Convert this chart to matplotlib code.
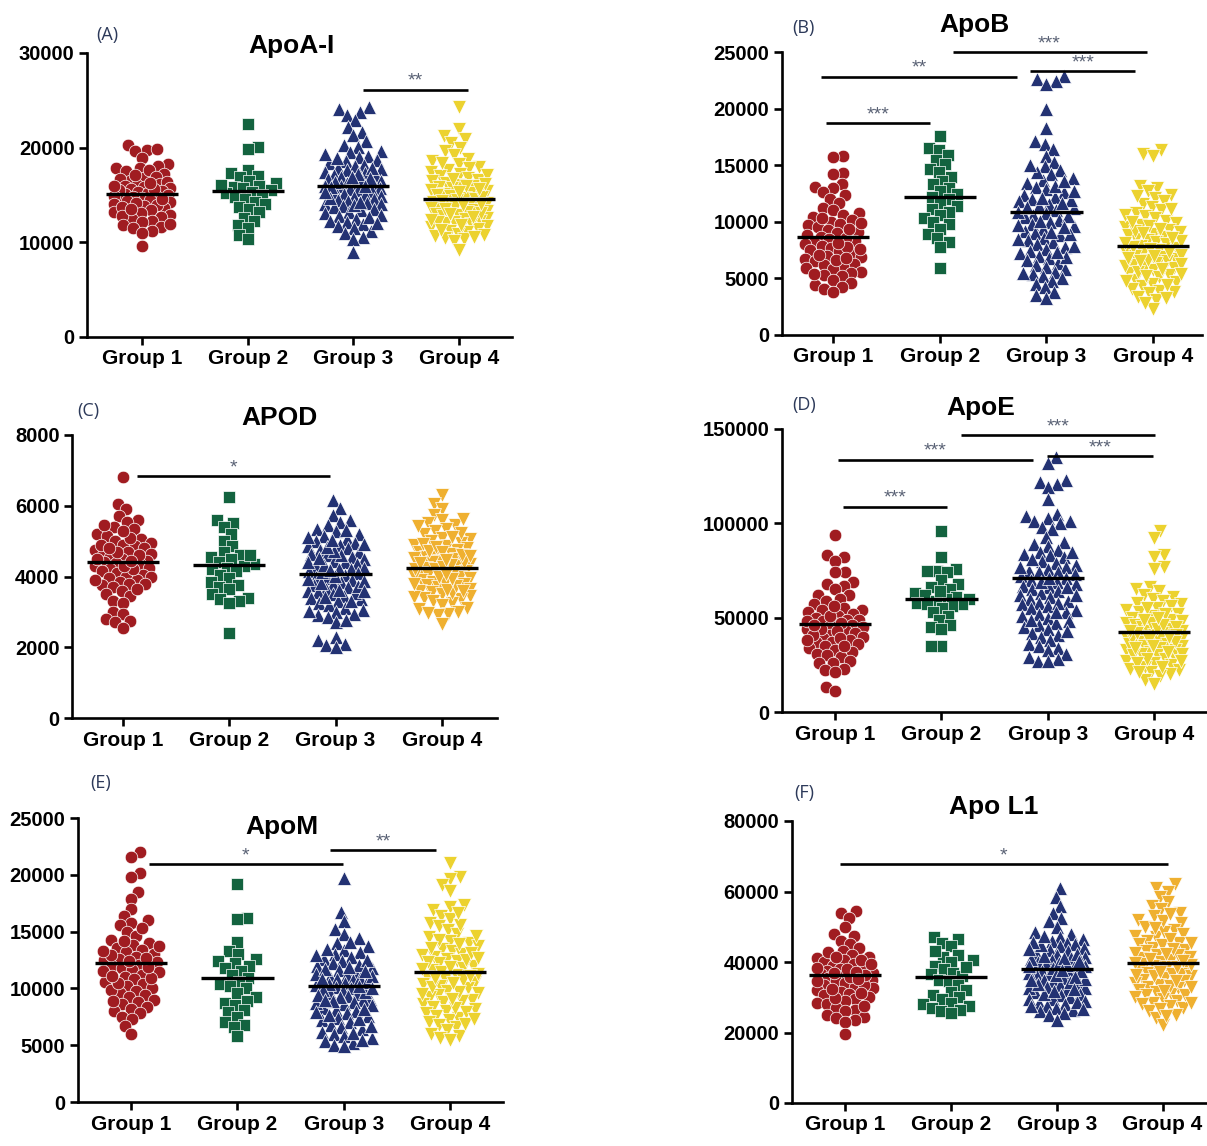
import numpy as np
import matplotlib
matplotlib.use('Agg')
import matplotlib.pyplot as plt

plt.rcParams['font.family'] = ['Liberation Sans', 'DejaVu Sans']

# canvas size in pixels (dpi 100)
W_PX, H_PX = 1207, 1146

groups = ['Group 1', 'Group 2', 'Group 3', 'Group 4']
markers = ['o', 's', '^', 'v']
marker_sizes = [82, 74, 100, 100]
colors = ['#A01C21', '#13633F', '#233273', '#ECD22F']
gold = '#EFB030'

# ---------------- data (values in thousands) ----------------
apoa1_g1 = [20.3, 19.8, 19.6, 19.9, 18.3, 18.9, 17.8, 18.1, 17.5, 17.9, 17.2, 16.8, 17.6, 16.5, 16.9, 16.2,
            16.7, 15.9, 16.4, 16.1, 15.6, 15.8, 15.3, 15.7, 15.4, 15.1, 15.5, 14.9, 15.2, 14.7, 15.0, 14.6,
            14.8, 14.4, 14.3, 14.9, 14.1, 14.5, 13.8, 14.2, 13.6, 13.9, 13.4, 13.2, 13.7, 12.9, 13.1, 12.7,
            12.5, 12.8, 12.3, 12.1, 11.8, 11.6, 11.5, 11.9, 11.2, 11.0, 15.6, 16.3, 14.6, 17.1, 13.5, 15.9, 9.6]
apoa1_g2 = [22.5, 20.1, 19.9, 17.6, 17.3, 17.0, 16.9, 16.5, 16.3, 16.0, 15.8, 15.7, 15.5, 15.3, 15.2, 15.0,
            14.8, 14.6, 14.3, 14.0, 13.7, 13.5, 13.2, 12.6, 12.3, 11.8, 11.5, 10.8, 10.3, 16.1]
apoa1_g3 = [24.3, 24.1, 23.8, 23.5, 22.9, 22.2, 21.7, 21.3, 20.7, 20.3, 20.1, 19.6, 19.5, 19.1, 19.0, 18.7,
            18.6, 18.4, 18.2, 18.1, 17.9, 17.7, 17.6, 17.4, 17.3, 17.1, 17.0, 16.9, 16.7, 16.6, 16.5, 16.3,
            16.2, 16.1, 16.0, 15.9, 15.7, 15.6, 15.5, 15.4, 15.2, 15.1, 15.0, 14.9, 14.8, 14.6, 14.5, 14.4,
            14.2, 14.1, 14.0, 13.8, 13.7, 13.5, 13.4, 13.2, 13.1, 12.9, 12.8, 12.5, 12.3, 12.2, 11.9, 11.7,
            11.5, 11.2, 11.0, 10.6, 10.4, 9.0, 17.8, 16.4, 15.8, 14.7, 15.3, 16.8, 18.9, 13.9, 12.7, 17.2,
            19.3, 14.3, 15.9, 16.9, 12.0]
apoa1_g4 = [24.3, 22.0, 21.2, 20.9, 20.5, 20.0, 19.6, 19.2, 18.8, 18.6, 18.3, 18.0, 17.8, 17.6, 17.4, 17.2,
            17.0, 16.8, 16.6, 16.5, 16.3, 16.1, 16.0, 15.8, 15.7, 15.5, 15.4, 15.2, 15.1, 15.0, 14.9, 14.7,
            14.6, 14.5, 14.3, 14.2, 14.1, 14.0, 13.8, 13.7, 13.6, 13.4, 13.3, 13.2, 13.0, 12.9, 12.8, 12.6,
            12.5, 12.3, 12.2, 12.0, 11.9, 11.7, 11.6, 11.4, 11.2, 11.1, 10.9, 10.7, 10.5, 10.3, 10.1, 9.2,
            15.9, 14.4, 13.1, 16.7, 12.1, 17.1, 14.8, 13.9, 11.8, 15.3, 12.7, 16.2, 10.8, 13.5, 14.0, 11.3,
            18.4, 12.4, 15.6, 10.6, 13.0]
apoa1_means = [15.1, 15.4, 16.0, 14.6]

apob_g1 = [15.8, 15.7, 14.3, 14.2, 13.3, 13.1, 13.0, 12.6, 12.4, 12.0, 11.7, 11.2, 11.0, 10.8, 10.6, 10.4,
           10.2, 10.0, 9.8, 9.7, 9.5, 9.3, 9.1, 9.0, 8.8, 8.7, 8.5, 8.3, 8.2, 8.0, 7.9, 7.7, 7.5, 7.4, 7.2,
           7.0, 6.9, 6.7, 6.5, 6.3, 6.2, 6.0, 5.8, 5.6, 5.5, 5.3, 5.2, 4.9, 4.6, 4.4, 4.2, 4.1, 3.8, 8.6,
           7.8, 9.4, 10.3, 6.6, 5.9, 7.1, 8.1, 9.9, 6.8, 5.4, 7.6]
apob_g2 = [17.6, 16.5, 16.3, 15.9, 15.5, 15.1, 14.7, 14.4, 14.0, 13.6, 13.3, 13.0, 12.7, 12.5, 12.2, 12.0,
           11.7, 11.4, 11.1, 10.9, 10.6, 10.3, 10.0, 9.8, 9.4, 8.9, 8.6, 8.2, 7.8, 5.9]
apob_g3 = [22.9, 22.6, 22.4, 22.2, 20.0, 18.3, 17.1, 16.9, 16.4, 15.8, 15.3, 14.9, 14.6, 14.2, 13.9, 13.7,
           13.4, 13.1, 12.9, 12.6, 12.4, 12.2, 12.0, 11.8, 11.6, 11.4, 11.2, 11.0, 10.8, 10.6, 10.4, 10.2,
           10.0, 9.8, 9.6, 9.4, 9.2, 9.0, 8.8, 8.6, 8.4, 8.2, 8.0, 7.8, 7.6, 7.4, 7.2, 7.0, 6.8, 6.6, 6.4,
           6.2, 6.0, 5.8, 5.6, 5.4, 5.2, 5.0, 4.8, 4.5, 4.2, 3.8, 3.5, 3.3, 13.2, 11.9, 10.5, 9.1, 7.9,
           12.7, 14.4, 10.9, 8.5, 6.9, 11.3, 9.7, 15.0, 12.1, 8.9, 10.1, 13.6, 7.3, 11.7, 5.5, 9.5]
apob_g4 = [16.3, 16.0, 15.8, 13.2, 13.0, 12.7, 12.4, 12.1, 11.8, 11.6, 11.3, 11.0, 10.8, 10.5, 10.3, 10.1,
           9.9, 9.7, 9.5, 9.3, 9.1, 8.9, 8.7, 8.5, 8.4, 8.2, 8.0, 7.9, 7.7, 7.5, 7.4, 7.2, 7.0, 6.9, 6.7,
           6.5, 6.4, 6.2, 6.0, 5.9, 5.7, 5.5, 5.3, 5.1, 4.9, 4.7, 4.5, 4.3, 4.1, 3.9, 3.7, 3.4, 3.1, 2.3,
           8.8, 7.6, 6.6, 9.2, 5.6, 10.6, 7.1, 8.3, 6.1, 9.6, 4.8, 7.8, 5.2, 8.6, 6.8, 11.1, 3.8, 7.3, 9.0,
           5.8, 6.3, 12.3, 4.4, 8.1, 7.0, 10.0, 5.4, 6.5, 3.3, 9.4, 2.8]
apob_means = [8.7, 12.15, 10.9, 7.9]

apod_g1 = [6.8, 6.05, 5.9, 5.7, 5.6, 5.55, 5.4, 5.35, 5.2, 5.15, 5.05, 5.0, 4.95, 4.9, 4.85, 4.8, 4.75, 4.7,
           4.65, 4.6, 4.55, 4.5, 4.45, 4.4, 4.38, 4.35, 4.3, 4.25, 4.2, 4.15, 4.1, 4.05, 4.0, 3.95, 3.9,
           3.85, 3.8, 3.75, 3.7, 3.6, 3.5, 3.45, 3.3, 3.25, 3.0, 2.95, 2.8, 2.75, 2.7, 2.55, 4.6, 4.2, 4.9,
           3.9, 4.5, 5.1, 4.0, 4.7, 3.8, 5.3, 4.3, 4.45, 3.65, 4.8, 5.45]
apod_g2 = [6.25, 5.6, 5.5, 5.4, 5.2, 5.0, 4.85, 4.7, 4.6, 4.55, 4.5, 4.4, 4.35, 4.3, 4.25, 4.2, 4.15, 4.05,
           3.95, 3.85, 3.75, 3.7, 3.65, 3.5, 3.4, 3.35, 3.3, 3.25, 2.4, 4.6]
apod_g3 = [6.15, 5.95, 5.75, 5.6, 5.55, 5.45, 5.35, 5.3, 5.2, 5.15, 5.05, 5.0, 4.95, 4.9, 4.85, 4.8, 4.75,
           4.7, 4.65, 4.6, 4.55, 4.5, 4.45, 4.4, 4.35, 4.3, 4.25, 4.2, 4.15, 4.1, 4.05, 4.0, 3.95, 3.9,
           3.85, 3.8, 3.75, 3.7, 3.65, 3.6, 3.55, 3.5, 3.45, 3.4, 3.35, 3.3, 3.25, 3.2, 3.1, 3.05, 3.0,
           2.95, 2.9, 2.85, 2.7, 2.3, 2.2, 2.1, 2.05, 2.0, 4.42, 3.82, 4.62, 4.12, 3.52, 4.92, 3.72, 4.22,
           5.12, 3.42, 4.72, 3.92, 4.32, 3.62, 4.52, 3.02, 5.32, 4.02, 3.32, 4.82, 3.88, 4.18, 2.78, 5.02, 3.58]
apod_g4 = [6.3, 6.05, 5.9, 5.75, 5.6, 5.5, 5.45, 5.35, 5.3, 5.2, 5.1, 5.05, 5.0, 4.95, 4.9, 4.85, 4.8, 4.75,
           4.7, 4.65, 4.6, 4.55, 4.5, 4.45, 4.4, 4.35, 4.3, 4.25, 4.2, 4.15, 4.1, 4.05, 4.0, 3.95, 3.9,
           3.85, 3.8, 3.75, 3.7, 3.65, 3.6, 3.55, 3.5, 3.45, 3.4, 3.35, 3.3, 3.25, 3.2, 3.1, 3.0, 2.95,
           2.9, 2.65, 4.42, 4.62, 3.82, 4.12, 5.22, 3.52, 4.92, 4.32, 3.72, 4.72, 4.02, 5.42, 3.62, 4.52,
           3.92, 4.22, 5.12, 3.42, 4.82, 3.08, 4.38, 5.62, 3.98, 4.58, 3.78, 4.28, 2.98, 4.68, 3.58, 4.08, 4.48]
apod_means = [4.4, 4.32, 4.08, 4.25]

apoe_g1 = [94, 83, 82, 80, 74, 74, 69, 68, 67, 65, 62, 62, 60, 59, 57, 55, 54, 54, 53, 52, 51, 50, 49, 49,
           48, 47, 46, 45, 45, 44, 43, 42, 41, 40, 39, 38, 37, 37, 36, 35, 34, 33, 32, 31, 30, 29, 27, 26,
           26, 23, 22, 21, 13, 11, 47, 43, 51, 39, 56, 44, 35, 48, 41, 38, 46]
apoe_g2 = [96, 82, 76, 75, 75, 74, 70, 68, 66, 65, 63, 62, 61, 60, 60, 59, 58, 57, 57, 56, 55, 53, 51, 49,
           46, 45, 44, 35, 35, 64]
apoe_g3 = [135, 132, 123, 122, 121, 119, 113, 105, 104, 103, 101, 101, 100, 98, 97, 93, 90, 89, 88, 86, 85,
           84, 83, 82, 80, 79, 78, 77, 76, 75, 74, 73, 72, 71, 70, 69, 68, 67, 66, 65, 64, 63, 62, 61, 60,
           59, 58, 57, 56, 55, 54, 53, 52, 51, 50, 48, 47, 46, 45, 44, 42, 41, 40, 38, 36, 35, 34, 33, 31,
           29, 28, 27, 27, 74, 66, 58, 81, 69, 53, 62, 77, 49, 85, 71, 43]
apoe_g4 = [96, 92, 83, 82, 77, 76, 66, 65, 64, 62, 61, 60, 59, 58, 57, 56, 55, 54, 53, 52, 51, 50, 49, 48,
           47, 46, 45, 44, 43, 43, 42, 41, 40, 40, 39, 38, 37, 36, 35, 35, 34, 33, 32, 31, 30, 29, 28, 27,
           26, 25, 24, 23, 22, 21, 20, 19, 17, 15, 45, 38, 52, 33, 47, 41, 28, 36, 55, 30, 44, 39, 49, 26,
           34, 42, 37, 31, 46, 24, 50, 35, 40, 27, 43, 32, 21]
apoe_means = [46.5, 60.0, 71.0, 42.5]

apom_g1 = [22.0, 21.6, 20.2, 19.8, 18.5, 17.9, 17.0, 16.4, 16.0, 15.8, 15.6, 15.0, 14.6, 14.3, 14.0, 13.8,
           13.6, 13.4, 13.2, 13.0, 12.8, 12.6, 12.5, 12.3, 12.1, 12.0, 11.8, 11.6, 11.4, 11.2, 11.0, 10.8,
           10.6, 10.4, 10.2, 10.0, 9.8, 9.6, 9.4, 9.2, 9.0, 8.8, 8.6, 8.4, 8.2, 8.0, 7.8, 7.5, 7.3, 6.7,
           6.0, 12.9, 11.5, 13.3, 10.9, 12.4, 14.2, 9.9, 11.9, 13.7, 10.5, 12.7, 8.9, 11.1, 15.3]
apom_g2 = [19.2, 16.2, 16.1, 14.1, 13.3, 13.0, 12.6, 12.4, 12.2, 12.0, 11.8, 11.5, 11.2, 10.9, 10.6, 10.4,
           10.2, 10.0, 9.6, 9.2, 8.9, 8.7, 8.5, 8.1, 7.9, 7.5, 7.0, 6.8, 6.6, 5.8]
apom_g3 = [19.7, 16.7, 15.9, 15.2, 14.8, 14.4, 14.0, 13.7, 13.4, 13.2, 13.0, 12.8, 12.6, 12.4, 12.2, 12.0,
           11.8, 11.6, 11.4, 11.2, 11.0, 10.8, 10.7, 10.5, 10.3, 10.1, 10.0, 9.8, 9.6, 9.5, 9.3, 9.1, 9.0,
           8.8, 8.6, 8.5, 8.3, 8.1, 8.0, 7.8, 7.6, 7.4, 7.2, 7.0, 6.8, 6.6, 6.4, 6.2, 6.0, 5.8, 5.6, 5.4,
           5.2, 5.0, 4.9, 10.9, 9.7, 11.3, 8.7, 12.1, 10.4, 9.2, 13.5, 7.7, 11.7, 10.6, 8.9, 12.5, 9.9,
           7.3, 11.1, 10.2, 6.7, 12.9, 9.4, 8.2, 11.5, 10.0, 6.1, 14.1, 9.0, 7.9, 11.9, 5.5, 10.8]
apom_g4 = [21.0, 19.8, 19.6, 19.1, 18.6, 17.3, 17.2, 16.9, 16.4, 16.1, 15.8, 15.5, 15.1, 14.8, 14.5, 14.2,
           14.0, 13.7, 13.5, 13.3, 13.0, 12.8, 12.6, 12.4, 12.2, 12.0, 11.8, 11.6, 11.4, 11.2, 11.0, 10.8,
           10.6, 10.4, 10.2, 10.0, 9.8, 9.6, 9.4, 9.2, 9.0, 8.8, 8.6, 8.4, 8.2, 8.0, 7.8, 7.6, 7.4, 7.2,
           7.0, 6.8, 6.6, 6.3, 6.0, 5.8, 5.6, 5.5, 12.9, 11.3, 10.7, 13.9, 9.5, 12.3, 8.9, 14.6, 11.7,
           10.1, 15.6, 7.9, 12.5, 9.7, 13.1, 11.1, 6.9, 14.3, 10.5, 8.3, 12.7, 16.6, 9.1, 11.9, 7.3, 13.6, 10.9]
apom_means = [12.2, 10.9, 10.2, 11.4]

apol1_g1 = [54.5, 54.0, 52.5, 50.0, 48.0, 47.5, 46.0, 45.0, 44.0, 43.0, 42.0, 41.5, 41.0, 40.5, 40.0, 39.5,
            39.0, 38.5, 38.0, 37.5, 37.0, 36.5, 36.0, 35.5, 35.0, 34.5, 34.0, 33.5, 33.0, 32.5, 32.0, 31.5,
            31.0, 30.5, 30.0, 29.5, 29.0, 28.5, 28.0, 27.0, 26.5, 26.0, 25.0, 24.5, 24.0, 23.5, 23.0, 19.5,
            38.2, 35.8, 40.7, 33.6, 37.9, 36.3, 42.8, 31.2, 34.7, 39.3, 29.8, 36.8, 32.4, 37.2, 41.3, 27.6, 35.2]
apol1_g2 = [47.0, 46.5, 45.5, 44.5, 42.0, 41.5, 40.5, 40.0, 39.0, 38.0, 37.0, 36.5, 36.0, 35.0, 34.5, 33.5,
            32.0, 31.5, 30.5, 30.0, 29.5, 28.5, 28.0, 27.5, 27.0, 26.5, 26.0, 25.5, 38.5, 43.0]
apol1_g3 = [61.0, 58.5, 56.0, 54.0, 52.5, 51.5, 50.0, 48.5, 48.0, 47.0, 46.5, 46.0, 45.5, 45.0, 44.5, 44.0,
            43.5, 43.0, 42.5, 42.0, 41.5, 41.0, 40.5, 40.0, 39.5, 39.0, 38.5, 38.0, 37.5, 37.0, 36.5, 36.0,
            35.5, 35.0, 34.5, 34.0, 33.5, 33.0, 32.5, 32.0, 31.5, 31.0, 30.5, 30.0, 29.5, 29.0, 28.5, 28.0,
            27.5, 27.0, 26.5, 26.0, 25.5, 25.0, 23.5, 38.2, 41.8, 35.3, 44.7, 32.6, 39.7, 36.9, 42.3, 30.8,
            37.4, 34.2, 40.9, 28.7, 45.8, 33.8, 38.8, 31.7, 43.6, 36.3, 29.6, 39.2, 35.7, 27.4, 41.2, 34.8,
            37.7, 26.8, 40.3, 32.2, 47.5]
apol1_g4 = [62.0, 61.0, 60.0, 58.5, 57.0, 56.0, 55.0, 54.0, 53.0, 52.0, 51.0, 50.0, 49.0, 48.0, 47.5, 47.0,
            46.0, 45.5, 45.0, 44.0, 43.5, 43.0, 42.0, 41.5, 41.0, 40.5, 40.0, 39.5, 39.0, 38.5, 38.0, 37.5,
            37.0, 36.5, 36.0, 35.5, 35.0, 34.5, 34.0, 33.5, 33.0, 32.5, 32.0, 31.5, 31.0, 30.5, 30.0, 29.5,
            29.0, 28.5, 28.0, 27.5, 27.0, 26.0, 25.0, 24.0, 22.0, 39.2, 42.6, 36.7, 48.6, 33.2, 44.8, 40.8,
            35.9, 51.7, 30.7, 38.7, 46.4, 28.3, 41.9, 37.3, 53.6, 34.7, 43.7, 31.7, 39.8, 49.7, 26.7, 45.3,
            36.2, 40.2, 32.8, 42.4, 24.6]
apol1_means = [36.2, 35.7, 38.0, 39.6]

# significance brackets: (x start, x end in group units, y in thousands, label)
apoa1_sig = [(2.09, 3.08, 26.1, '**')]
apob_sig = [(-0.07, 0.91, 18.7, '***'), (-0.11, 1.72, 22.8, '**'),
            (1.12, 2.94, 25.0, '***'), (1.85, 2.83, 23.3, '***')]
apod_sig = [(0.13, 1.95, 6.84, '*')]
apoe_sig = [(0.07, 1.05, 108.7, '***'), (0.03, 1.86, 133.6, '***'),
            (1.18, 3.01, 146.8, '***'), (1.99, 2.99, 135.7, '***')]
apom_sig = [(0.17, 1.99, 20.95, '*'), (1.87, 2.87, 22.18, '**')]
apol1_sig = [(-0.05, 3.05, 67.8, '*')]

# panel layout: axes box in pixels (left, right, top, bottom), xlim, y top, tick step
panels = [
    dict(tag='(A)', title='ApoA-I', data=[apoa1_g1, apoa1_g2, apoa1_g3, apoa1_g4], means=apoa1_means,
         sig=apoa1_sig, box=(87, 512, 53, 337), xlim=(-0.52, 3.50), ytop=30, step=10,
         title_xy=(291, 46), tag_xy=(96, 35), g4=colors[3]),
    dict(tag='(B)', title='ApoB', data=[apob_g1, apob_g2, apob_g3, apob_g4], means=apob_means,
         sig=apob_sig, box=(782, 1202, 52, 335), xlim=(-0.48, 3.46), ytop=25, step=5,
         title_xy=(974, 25), tag_xy=(792, 28), g4=colors[3]),
    dict(tag='(C)', title='APOD', data=[apod_g1, apod_g2, apod_g3, apod_g4], means=apod_means,
         sig=apod_sig, box=(72, 497, 435, 718), xlim=(-0.48, 3.52), ytop=8, step=2,
         title_xy=(279, 418), tag_xy=(77, 411), g4=gold),
    dict(tag='(D)', title='ApoE', data=[apoe_g1, apoe_g2, apoe_g3, apoe_g4], means=apoe_means,
         sig=apoe_sig, box=(782, 1207, 429, 712), xlim=(-0.50, 3.50), ytop=150, step=50,
         title_xy=(981, 408), tag_xy=(792, 405), g4=colors[3]),
    dict(tag='(E)', title='ApoM', data=[apom_g1, apom_g2, apom_g3, apom_g4], means=apom_means,
         sig=apom_sig, box=(78, 503, 818, 1102), xlim=(-0.50, 3.50), ytop=25, step=5,
         title_xy=(282, 827), tag_xy=(90, 783), g4=colors[3]),
    dict(tag='(F)', title='Apo L1', data=[apol1_g1, apol1_g2, apol1_g3, apol1_g4], means=apol1_means,
         sig=apol1_sig, box=(792, 1207, 821, 1103), xlim=(-0.50, 3.42), ytop=80, step=20,
         title_xy=(994, 807), tag_xy=(794, 793), g4=gold),
]


# beeswarm offsets, worked out in pixels so markers don't pile up
def swarm(values, px_per_val, min_dist=9.5, max_half=28):
    vals = np.asarray(values, dtype=float)
    order = np.argsort(vals)
    steps = np.arange(1, max_half + 1)
    cand = np.concatenate([[0.0], np.ravel(np.column_stack([steps, -steps]))])
    px_list, py_list = [], []
    out = np.zeros(len(vals))
    for k, idx in enumerate(order):
        y = vals[idx] * px_per_val
        if px_list:
            px = np.array(px_list)
            py = np.array(py_list)
            near = np.abs(py - y) < min_dist
            px, py = px[near], py[near]
        else:
            px = py = np.array([])
        best, best_d = 0.0, -1.0
        flip = 1 if k % 2 == 0 else -1
        for c in cand * flip:
            if len(px) == 0:
                best = c
                break
            d = np.min(np.hypot(px - c, py - y))
            if d >= min_dist:
                best = c
                break
            if d > best_d:
                best_d, best = d, c
        out[idx] = best
        px_list.append(best)
        py_list.append(y)
    return out


fig = plt.figure(figsize=(W_PX / 100, H_PX / 100), dpi=100)

for p in panels:
    left, right, top, bottom = p['box']
    ax = fig.add_axes([left / W_PX, 1 - bottom / H_PX, (right - left) / W_PX, (bottom - top) / H_PX])
    ax.set_xlim(*p['xlim'])
    ax.set_ylim(0, p['ytop'])

    px_per_unit = (right - left) / (p['xlim'][1] - p['xlim'][0])
    px_per_val = (bottom - top) / p['ytop']

    cols = colors[:3] + [p['g4']]
    for i, vals in enumerate(p['data']):
        offs = swarm(vals, px_per_val) / px_per_unit
        ax.scatter(i + offs, vals, s=marker_sizes[i], marker=markers[i], color=cols[i],
                   edgecolors='white', linewidths=0.5, zorder=3, clip_on=False)
        # mean line
        ax.plot([i - 0.34, i + 0.34], [p['means'][i], p['means'][i]], color='black', lw=2.4,
                zorder=5, solid_capstyle='butt')

    # significance brackets
    for x0, x1, y, lab in p['sig']:
        ax.plot([x0, x1], [y, y], color='black', lw=1.9, clip_on=False, zorder=4,
                solid_capstyle='butt')
        ax.annotate(lab, xy=((x0 + x1) / 2, y), xytext=(0, 0), textcoords='offset points',
                    ha='center', va='bottom', fontsize=14, color='#5a6275', annotation_clip=False)

    ax.spines['top'].set_visible(False)
    ax.spines['right'].set_visible(False)
    ax.spines['left'].set_linewidth(1.9)
    ax.spines['bottom'].set_linewidth(1.9)

    ax.set_xticks(range(4))
    ax.set_xticklabels(groups, fontsize=15, fontweight='bold')
    ticks = np.arange(0, p['ytop'] + 0.001, p['step'])
    ax.set_yticks(ticks)
    ax.set_yticklabels([f'{int(round(t * 1000))}' for t in ticks], fontsize=14.5, fontweight='bold')
    ax.tick_params(axis='both', length=6, width=1.9, pad=3)

    fig.text(p['title_xy'][0] / W_PX, 1 - p['title_xy'][1] / H_PX, p['title'], ha='center',
             va='center', fontsize=19, fontweight='bold')
    fig.text(p['tag_xy'][0] / W_PX, 1 - p['tag_xy'][1] / H_PX, p['tag'], ha='left', va='center',
             fontsize=13, color='#2d3a5a', family=['Open Sans', 'DejaVu Sans'])

fig.savefig('out.png', dpi=100)
